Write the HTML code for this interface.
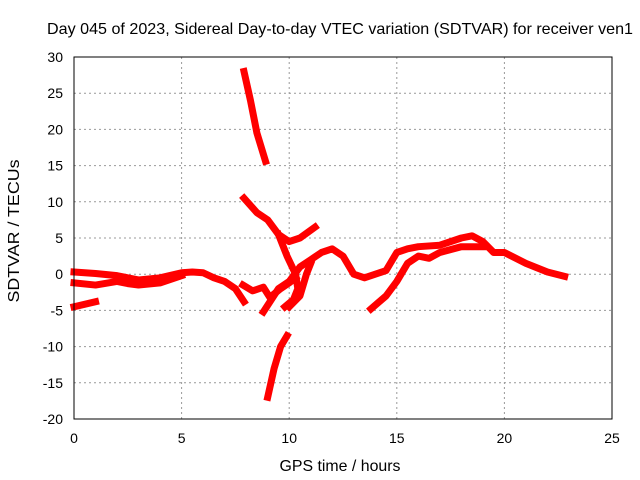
<!DOCTYPE html>
<html><head><meta charset="utf-8"><style>
body{margin:0;background:#fff;}
svg{display:block;font-family:"Liberation Sans",sans-serif;}
</style></head><body>
<svg id="chart" width="640" height="480">
<text x="340" y="34" font-size="16" text-anchor="middle" textLength="586" lengthAdjust="spacingAndGlyphs">Day 045 of 2023, Sidereal Day-to-day VTEC variation (SDTVAR) for receiver ven1</text>
<text x="340" y="471" font-size="16" text-anchor="middle" textLength="121" lengthAdjust="spacingAndGlyphs">GPS time / hours</text>
<text transform="translate(19,231) rotate(-90)" font-size="16" text-anchor="middle" textLength="143" lengthAdjust="spacingAndGlyphs">SDTVAR / TECUs</text>
<g id="grid"></g><g id="ticks"></g><g id="series"></g>
<rect x="74" y="57" width="538" height="362" fill="none" stroke="#000" stroke-width="1"/>
</svg>
<script>
const xTicks=[0,5,10,15,20,25];
const yTicks=[30,25,20,15,10,5,0,-5,-10,-15,-20];
const track1=[[0,0.3],[1,0.1],[2,-0.2],[3,-0.8],[4,-0.5],[5,0.2],[5.5,0.3],[6,0.2],[6.5,-0.5],[7,-1],[7.5,-2],[7.9,-3.8]];
const track2=[[0,-1.2],[1,-1.5],[2,-1.0],[2.5,-1.3],[3,-1.5],[4,-1.2],[5,-0.2]];
const track3=[[0,-4.5],[1,-3.8]];
const track4=[[7.85,-1.5],[8.3,-2.3],[8.8,-1.8],[9.1,-3.2],[9.6,-2],[10,-1.2],[10.3,-0.5]];
const track5=[[7.9,28],[8.2,24],[8.5,19.5],[8.9,15.6]];
const track6=[[9.0,-17],[9.3,-13],[9.6,-10],[9.9,-8.5]];
const track7=[[7.9,10.5],[8.5,8.5],[9,7.5],[9.5,5.5],[10,4.5],[10.5,5],[11.2,6.5]];
const track8=[[9.5,5.5],[9.9,2.5],[10.3,0],[10.4,-2],[10.2,-3.5],[9.8,-4.5]];
const track9=[[8.8,-5.2],[9.5,-2],[10,-1],[10.5,1],[11,2],[11.5,3],[12,3.5],[12.5,2.5],[13,0],[13.5,-0.5],[14,0],[14.5,0.5],[15,3],[15.5,3.5],[16,3.8],[17,4],[18,5],[18.5,5.3],[19,4.5],[19.5,3],[20,3],[21,1.5],[22,0.3],[22.8,-0.3]];
const track10=[[10,-4.5],[10.5,-3],[10.8,0],[11,1.5]];
const track11=[[13.8,-4.8],[14.5,-3],[15,-1],[15.5,1.5],[16,2.5],[16.5,2.2],[17,3],[18,3.8],[19,3.8]];
const tracks=[track1,track2,track3,track4,track5,track6,track7,track8,track9,track10,track11];
const NS="http://www.w3.org/2000/svg";
const X=h=>74+h*538/25, Y=v=>57+(30-v)*362/50;
const grid=document.getElementById('grid'),ticks=document.getElementById('ticks'),ser=document.getElementById('series');
function mk(tag,attrs,parent){const e=document.createElementNS(NS,tag);for(const k in attrs)e.setAttribute(k,attrs[k]);parent.appendChild(e);return e;}
xTicks.forEach(t=>{
 if(t>0&&t<25){const g=mk('line',{x1:X(t),x2:X(t),y1:57,y2:419,stroke:'#999','stroke-dasharray':'2,3'},grid);
 
 }
 const l=mk('text',{x:X(t),y:443,'font-size':14,'text-anchor':'middle'},ticks);l.textContent=t;
 
 
});
yTicks.forEach(t=>{
 if(t<30&&t>-20){const g=mk('line',{x1:74,x2:612,y1:Y(t),y2:Y(t),stroke:'#999','stroke-dasharray':'2,3'},grid);
 
 }
 const l=mk('text',{x:63,y:Y(t)+5,'font-size':14,'text-anchor':'end'},ticks);l.textContent=t;
 
 
});
tracks.forEach((tr,i)=>{
 const p=mk('polyline',{points:tr.map(d=>X(d[0])+','+Y(d[1])).join(' '),fill:'none',stroke:'#f00','stroke-width':7,'stroke-linejoin':'round','stroke-linecap':'square'},ser);
 
 
});
</script>
</body></html>
